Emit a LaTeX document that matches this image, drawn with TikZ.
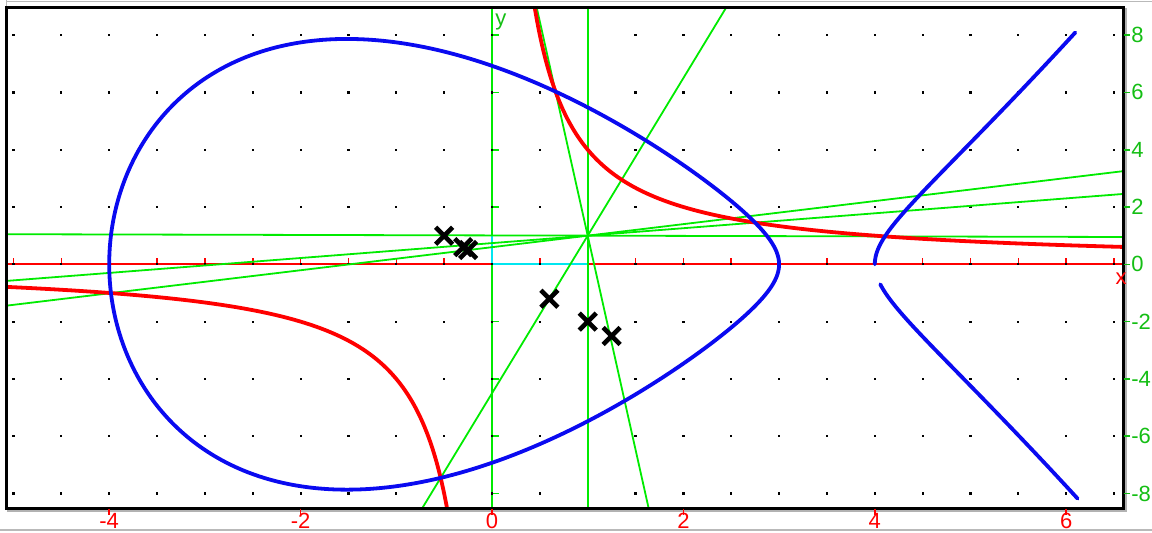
\documentclass[tikz,border=0pt]{standalone}
\usepackage{fontspec}
\setmainfont{Liberation Sans}
\usetikzlibrary{shapes.misc,calc}
\definecolor{cgreen}{RGB}{0,235,0}
\definecolor{lgreen}{RGB}{20,190,20}
\definecolor{cred}{RGB}{255,0,0}
\definecolor{cblue}{RGB}{10,10,240}
\definecolor{ccyan}{RGB}{0,230,240}
\begin{document}
\begin{tikzpicture}[x=47.85pt,y=14.325pt,
  curve/.style={line width=1.9pt, line join=round, line cap=round},
  gline/.style={cgreen, line width=0.9pt},
  xmark/.style={cross out, draw=black, line width=2.3pt, minimum size=6.2pt, inner sep=0pt},
  tlab/.style={font=\fontsize{11pt}{13pt}\selectfont, inner sep=0pt},
  gridpt/.style={black}]
\useasboundingbox (-5.1411,-9.3438) rectangle (6.8966,9.2251);
% outer window lines
\draw[gray!55, line width=0.7pt] (-5.0731,9.1728) -- (6.8966,9.1728);
\draw[gray!55, line width=0.7pt] (-5.1411,-9.274) -- (6.8966,-9.274);
\draw[gray!55, line width=0.7pt] (-5.0731,9.2251) -- (-5.0731,8.9634);
% frame corners
\coordinate (fsw) at (-5.0731,-8.5236);
\coordinate (fne) at (6.5987,8.9634);
\coordinate (fse) at (6.5987,-8.5236);
\coordinate (fnw) at (-5.0731,8.9634);
% key points
\coordinate (O) at (0,0);
\coordinate (P) at (1,1);
\coordinate (I1) at (0.66338,6.0297);
\coordinate (I2) at (-0.5366,-7.4543);
\coordinate (I3) at (2.7492,1.4550);
\coordinate (I4) at (4.1058,0.97423);
\coordinate (I5) at (-3.9819,-1.00454);
\begin{scope}
  \clip (fsw) rectangle (fne);
  % axes
  \draw[cred, line width=1pt] (-5.2,0) -- (6.7,0);
  \foreach \i in {-5,-4.5,...,6.5} \draw[cred, line width=0.8pt] (\i,0) -- ++(0,3.4pt);
  \draw[cgreen, line width=1pt] (0,-9) -- (0,9.2);
  \foreach \j in {-8,-6,...,8} \draw[cgreen, line width=0.8pt] (0,\j) -- ++(3.5pt,0);
  \draw[ccyan, line width=1pt] (0,1) -- (O) -- (1,0);
  % grid dots
  \foreach \i in {-5,-4.5,...,6.5}
    \foreach \j in {-8,-6,...,8}
      \fill[gridpt] (\i,\j) ++(-0.55pt,-0.55pt) rectangle ++(1.1pt,1.1pt);
  % green lines through P
  \draw[gline] (1,-9) -- (1,9.2);
  \draw[gline] ($(P)!-6!(I1)$) -- ($(P)!6!(I1)$);
  \draw[gline] ($(P)!-6!(I2)$) -- ($(P)!6!(I2)$);
  \draw[gline] ($(P)!-6!(I3)$) -- ($(P)!6!(I3)$);
  \draw[gline] ($(P)!-6!(I4)$) -- ($(P)!6!(I4)$);
  \draw[gline] ($(P)!-6!(I5)$) -- ($(P)!6!(I5)$);
  % red curve y = 4/x
  \draw[cred, curve] plot[variable=\t, domain={ln(0.42)}:{ln(6.75)}, samples=160, smooth]
     ({exp(\t)},{4*exp(-\t)});
  \draw[cred, curve] plot[variable=\t, domain={ln(0.42)}:{ln(5.25)}, samples=160, smooth]
     ({-exp(\t)},{-4*exp(-\t)});
  % blue curve y^2 = (x+4)(x-3)(x-4)
  \draw[cblue, curve] plot[variable=\t, domain=0:360, samples=300, smooth]
     ({-0.5-3.5*cos(\t)},{3.5*sin(\t)*sqrt(4.5+3.5*cos(\t))});
  \draw[cblue, curve] plot[variable=\s, domain=0:1.449, samples=90, smooth]
     ({4+\s*\s},{\s*sqrt((8+\s*\s)*(1+\s*\s))});
  \draw[cblue, curve] plot[variable=\s, domain=-0.239:-1.456, samples=90, smooth]
     ({4+\s*\s},{\s*sqrt((8+\s*\s)*(1+\s*\s))});
\end{scope}
% cross marks
\node[xmark] (m1) at (-0.5,1) {};
\node[xmark] (m2) at (-0.3,0.6) {};
\node[xmark] (m3) at (-0.25,0.5) {};
\node[xmark] (m4) at (0.6,-1.2) {};
\node[xmark] (m5) at (1,-2) {};
\node[xmark] (m6) at (1.25,-2.5) {};
% frame
\draw[gray!60, line width=0.7pt] ([xshift=1.2pt]fne) -- ([xshift=1.2pt,yshift=-1.2pt]fse) -- ([yshift=-1.2pt]fsw);
\draw[black, line width=1.1pt] (fsw) rectangle (fne);
% axis names
\node[tlab, text=lgreen, anchor=west] (ylab) at (0.03,8.46) {y};
\node[tlab, text=cred] (xlab) at (6.573,-0.50) {x};
% bottom labels
\foreach \i [count=\k] in {-4,-2,...,6} {
  \draw[cred, line width=0.8pt] (\i,-8.5236) -- ++(0,-3pt);
  \node[tlab, text=cred] (xl\k) at (\i,-8.96) {\i};
}
% right labels
\foreach \j [count=\k] in {-8,-6,...,8} {
  \draw[lgreen, line width=0.8pt] (6.5987,\j) -- ++(3pt,0);
  \node[tlab, text=lgreen, anchor=west] (yl\k) at (6.677,\j) {\j};
}
\end{tikzpicture}
\end{document}
